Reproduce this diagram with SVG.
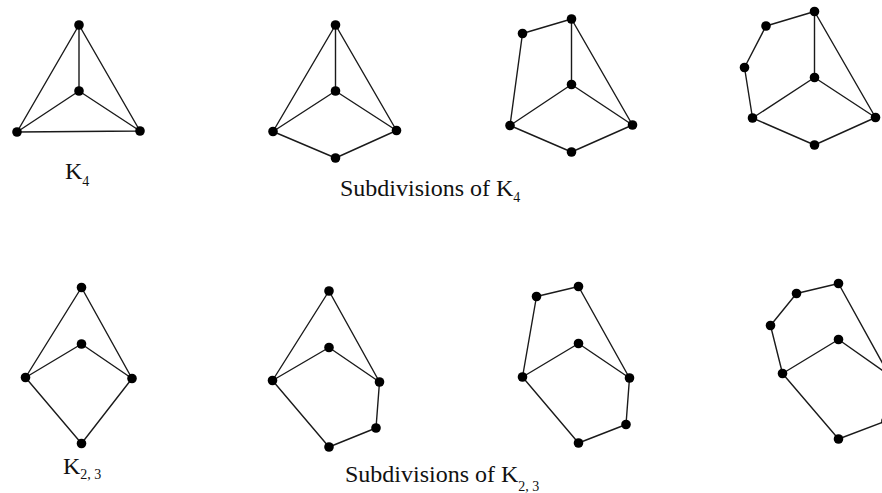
<svg xmlns="http://www.w3.org/2000/svg" width="882" height="493" viewBox="0 0 882 493">
<style>
.e{stroke:#1a1a1a;stroke-width:1.4;fill:none}
.n{fill:#000}
.t{font-family:"Liberation Serif","Times New Roman",serif;font-size:24px;fill:#111}
.s{font-family:"Liberation Serif","Times New Roman",serif;font-size:14px;fill:#111}
</style>
<rect width="882" height="493" fill="#fff"/>
<g id="connectors">
<path class="e" d="M79,25 L17,132 M79,25 L140,131 M79,25 L79,91 M79,91 L17,132 M79,91 L140,131 M17,132 L140,131"/>
<path class="e" d="M335.5,25 L273,131.5 M335.5,25 L396.5,130.5 M335.5,25 L335.5,91 M335.5,91 L273,131.5 M335.5,91 L396.5,130.5 M273,131.5 L335.5,158 M335.5,158 L396.5,130.5"/>
<path class="e" d="M571.5,19 L522.5,33.5 M522.5,33.5 L510,125.5 M571.5,19 L571.5,84.5 M571.5,19 L632.5,125 M571.5,84.5 L510,125.5 M571.5,84.5 L632.5,125 M510,125.5 L571.5,152 M571.5,152 L632.5,125"/>
<path class="e" d="M814.5,11.5 L766,26 M766,26 L744.5,67.5 M744.5,67.5 L752.5,118 M814.5,11.5 L814.5,77.5 M814.5,11.5 L875.5,117.5 M814.5,77.5 L752.5,118 M814.5,77.5 L875.5,117.5 M752.5,118 L814.5,145 M814.5,145 L875.5,117.5"/>
<path class="e" d="M81.5,287.5 L25.5,377.5 M81.5,287.5 L132,378.5 M81.5,344 L25.5,377.5 M81.5,344 L132,378.5 M25.5,377.5 L81.5,443.5 M81.5,443.5 L132,378.5"/>
<path class="e" d="M329,291 L272.5,380.5 M329,291 L379.5,382 M329,347.5 L272.5,380.5 M329,347.5 L379.5,382 M272.5,380.5 L329,447 M329,447 L376,428 M376,428 L379.5,382"/>
<path class="e" d="M522.5,377 L536.5,296.5 M536.5,296.5 L578.5,286.5 M578.5,286.5 L629.5,378 M578.5,343.5 L522.5,377 M578.5,343.5 L629.5,378 M522.5,377 L578.5,443 M578.5,443 L626,424.5 M626,424.5 L629.5,378"/>
<path class="e" d="M782.5,373.5 L770.5,325.5 M770.5,325.5 L796.5,293.5 M796.5,293.5 L838.5,283.5 M838.5,283.5 L889,375 M838.5,339.5 L782.5,373.5 M838.5,339.5 L889,375 M782.5,373.5 L838.5,439 M838.5,439 L886,421 M886,421 L889,375"/>
</g>
<g id="k4">
<circle class="n" cx="79" cy="25" r="4.8"/><circle class="n" cx="79" cy="91" r="4.8"/><circle class="n" cx="17" cy="132" r="4.8"/><circle class="n" cx="140" cy="131" r="4.8"/>
</g>
<g id="k4-sub1">
<circle class="n" cx="335.5" cy="25" r="4.8"/><circle class="n" cx="335.5" cy="91" r="4.8"/><circle class="n" cx="273" cy="131.5" r="4.8"/><circle class="n" cx="396.5" cy="130.5" r="4.8"/><circle class="n" cx="335.5" cy="158" r="4.8"/>
</g>
<g id="k4-sub2">
<circle class="n" cx="571.5" cy="19" r="4.8"/><circle class="n" cx="522.5" cy="33.5" r="4.8"/><circle class="n" cx="571.5" cy="84.5" r="4.8"/><circle class="n" cx="510" cy="125.5" r="4.8"/><circle class="n" cx="632.5" cy="125" r="4.8"/><circle class="n" cx="571.5" cy="152" r="4.8"/>
</g>
<g id="k4-sub3">
<circle class="n" cx="814.5" cy="11.5" r="4.8"/><circle class="n" cx="766" cy="26" r="4.8"/><circle class="n" cx="744.5" cy="67.5" r="4.8"/><circle class="n" cx="814.5" cy="77.5" r="4.8"/><circle class="n" cx="752.5" cy="118" r="4.8"/><circle class="n" cx="875.5" cy="117.5" r="4.8"/><circle class="n" cx="814.5" cy="145" r="4.8"/>
</g>
<g id="k23">
<circle class="n" cx="81.5" cy="287.5" r="4.8"/><circle class="n" cx="81.5" cy="344" r="4.8"/><circle class="n" cx="25.5" cy="377.5" r="4.8"/><circle class="n" cx="132" cy="378.5" r="4.8"/><circle class="n" cx="81.5" cy="443.5" r="4.8"/>
</g>
<g id="k23-sub1">
<circle class="n" cx="329" cy="291" r="4.8"/><circle class="n" cx="329" cy="347.5" r="4.8"/><circle class="n" cx="272.5" cy="380.5" r="4.8"/><circle class="n" cx="379.5" cy="382" r="4.8"/><circle class="n" cx="376" cy="428" r="4.8"/><circle class="n" cx="329" cy="447" r="4.8"/>
</g>
<g id="k23-sub2">
<circle class="n" cx="536.5" cy="296.5" r="4.8"/><circle class="n" cx="578.5" cy="286.5" r="4.8"/><circle class="n" cx="578.5" cy="343.5" r="4.8"/><circle class="n" cx="522.5" cy="377" r="4.8"/><circle class="n" cx="629.5" cy="378" r="4.8"/><circle class="n" cx="626" cy="424.5" r="4.8"/><circle class="n" cx="578.5" cy="443" r="4.8"/>
</g>
<g id="k23-sub3">
<circle class="n" cx="838.5" cy="283.5" r="4.8"/><circle class="n" cx="796.5" cy="293.5" r="4.8"/><circle class="n" cx="770.5" cy="325.5" r="4.8"/><circle class="n" cx="838.5" cy="339.5" r="4.8"/><circle class="n" cx="782.5" cy="373.5" r="4.8"/><circle class="n" cx="838.5" cy="439" r="4.8"/><circle class="n" cx="889" cy="375" r="4.8"/><circle class="n" cx="886" cy="421" r="4.8"/>
</g>
<g id="labels">
<text class="t" x="65" y="179">K<tspan class="s" dy="7">4</tspan></text>
<text class="t" x="340" y="196">Subdivisions of K<tspan class="s" dy="6">4</tspan></text>
<text class="t" x="63" y="474">K<tspan class="s" dy="5">2, 3</tspan></text>
<text class="t" x="345" y="482">Subdivisions of K<tspan class="s" dy="9">2, 3</tspan></text>
</g>
</svg>
